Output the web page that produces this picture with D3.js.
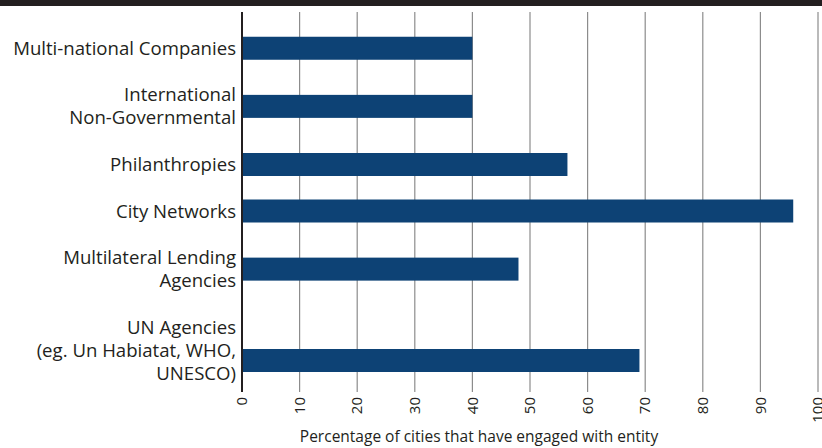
<!DOCTYPE html>
<html>
<head>
<meta charset="utf-8">
<script src="https://cdn.jsdelivr.net/npm/d3@7"></script>
<style>
  body { margin: 0; background: #fff; }
  text { font-family: "Open Sans", sans-serif; fill: #231f20; }
</style>
</head>
<body>
<svg id="chart" width="822" height="448"></svg>
<script>
// category labels (one entry per line of text)
var categories = [
    ["Multi-national Companies"],
    ["International", "Non-Governmental"],
    ["Philanthropies"],
    ["City Networks"],
    ["Multilateral Lending", "Agencies"],
    ["UN Agencies", "(eg. Un Habiatat, WHO,", "UNESCO)"]
]
var values = [40, 40, 56.5, 95.7, 48, 69]
var xTicks = [0, 10, 20, 30, 40, 50, 60, 70, 80, 90, 100]
var xTitle = "Percentage of cities that have engaged with entity"

var width = 822, height = 448
var svg = d3.select("#chart")

// top band
svg.append("rect").attr("x", 0).attr("y", 0).attr("width", width).attr("height", 6).attr("fill", "#231f20")

var x = d3.scaleLinear().domain([0, 100]).range([242, 818])

// row heights depend on how many lines the label has
var units = categories.map(d => d.length + 1)
var starts = []
var acc = 0
units.forEach(u => { starts.push(acc); acc += u })
var yRow = d3.scaleLinear().domain([0, acc]).range([25, 397])
var rowCenter = i => yRow(starts[i] + units[i] / 2)
var lineH = 23
var barH = 23

// grid lines
svg.selectAll("line.grid")
    .data(xTicks)
    .enter()
    .append("line")
    .attr("class", "grid")
    .attr("x1", d => x(d)).attr("x2", d => x(d))
    .attr("y1", 12).attr("y2", 392)
    .attr("stroke", d => d == 0 ? "#231f20" : "#8c8c8c")
    .attr("stroke-width", d => d == 0 ? 2 : 1.2)

// bars
svg.selectAll("rect.bar")
    .data(values)
    .enter()
    .append("rect")
    .attr("class", "bar")
    .attr("x", x(0) + 1)
    .attr("y", (d, i) => rowCenter(i) + (categories[i].length == 3 ? 10 : 0) - barH / 2)
    .attr("width", d => x(d) - x(0) - 1)
    .attr("height", barH)
    .attr("fill", "#0d4275")

// category labels
categories.forEach((lines, i) => {
    var t = svg.append("text")
        .attr("text-anchor", "end")
        .attr("font-size", 18.6)
    lines.forEach((l, j) => {
        t.append("tspan")
            .attr("x", 236)
            .attr("y", rowCenter(i) + (j - (lines.length - 1) / 2) * lineH)
            .attr("dy", "0.35em")
            .text(l)
    })
})

// tick labels
svg.selectAll("text.tick")
    .data(xTicks)
    .enter()
    .append("text")
    .attr("class", "tick")
    .attr("transform", d => "translate(" + x(d) + ",397) rotate(-90)")
    .attr("text-anchor", "end")
    .attr("dy", "0.35em")
    .attr("font-size", 15)
    .text(d => d)

svg.append("text")
    .attr("x", 479)
    .attr("y", 442)
    .attr("text-anchor", "middle")
    .attr("font-size", 15.5)
    .text(xTitle)
</script>
</body>
</html>
